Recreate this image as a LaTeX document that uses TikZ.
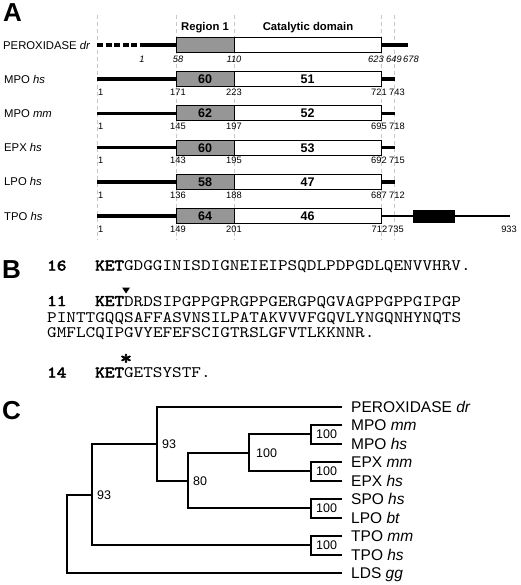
\documentclass[tikz,border=0pt]{standalone}
\usepackage{fontspec}
\setmainfont{Liberation Sans}
\newfontfamily\seqfont{lmmono10-regular}[Extension=.otf, FakeStretch=1.146, BoldFont=lmmono10-regular, BoldFeatures={FakeStretch=1.146, FakeBold=3}]
\definecolor{regiongray}{RGB}{150,150,150}
\definecolor{guidegray}{RGB}{200,200,200}
\begin{document}
\begin{tikzpicture}[x=1pt,y=-1pt,
  panel/.style={font=\fontsize{26}{26}\selectfont\bfseries, anchor=west, inner sep=0pt, text height=18.7pt, text depth=0pt},
  rowlbl/.style={font=\fontsize{11.3}{12}\selectfont, anchor=west, inner sep=0pt, text height=8.1pt, text depth=0pt},
  hdr/.style={font=\fontsize{11.3}{12}\selectfont\bfseries, inner sep=0pt, text height=8.1pt, text depth=0pt},
  regbox/.style={draw=black, line width=1pt, fill=regiongray, minimum width=58pt, minimum height=15pt, inner sep=0pt, font=\fontsize{12.5}{12}\selectfont\bfseries, text height=9pt, text depth=0pt},
  catbox/.style={draw=black, line width=1pt, fill=white, minimum width=147pt, minimum height=15pt, inner sep=0pt, font=\fontsize{12.5}{12}\selectfont\bfseries, text height=9pt, text depth=0pt},
  posn/.style={font=\fontsize{9.3}{9}\selectfont, inner sep=0pt, text height=6.6pt, text depth=0pt},
  stem/.style={line width=3.6pt},
  guide/.style={draw=guidegray, line width=0.9pt, dash pattern=on 4pt off 3pt},
  seq/.style={font=\seqfont\fontsize{16}{16}\selectfont, anchor=base west, inner sep=0pt},
  tree/.style={line width=2pt},
  leaf/.style={font=\fontsize{15.5}{16}\selectfont, anchor=west, inner xsep=9pt, inner ysep=0pt, text height=11.1pt, text depth=0pt},
  boot/.style={font=\fontsize{12.5}{13}\selectfont, anchor=west, inner sep=0pt, text height=9pt, text depth=0pt, xshift=5pt}
]
\useasboundingbox (0,0) rectangle (520,585);

% ---------- Panel A ----------
\node[panel] (pA) at (3,12) {A};
\foreach \gx in {97,176,234,381,394}
  \draw[guide] (\gx,15) -- (\gx,240);
\node[hdr] (hreg) at (205,26) {Region 1};
\node[hdr] (hcat) at (308,26) {Catalytic domain};

% PEROXIDASE dr
\node[rowlbl] (l0) at (3,45) {PEROXIDASE \textit{dr}};
\coordinate (s0) at (97,45);
\coordinate (m0) at (141,45);
\coordinate (e0) at (408,45);
\draw[stem, dash pattern=on 6pt off 2.6pt] (s0) -- (m0);
\draw[stem] (m0) -- (176,45);
\draw[stem] (381,45) -- (e0);
\node[regbox] (r0) at (205,45) {};
\node[catbox] (c0) at (307.5,45) {};
\node[posn] (p0a) at (142,59) {\textit{1}};
\node[posn] (p0b) at (178,59) {\textit{58}};
\node[posn] (p0c) at (234,59) {\textit{110}};
\node[posn] (p0d) at (376,59) {\textit{623}};
\node[posn] (p0e) at (394,59) {\textit{649}};
\node[posn] (p0f) at (411,59) {\textit{678}};

\foreach \i/\y/\nm/\ra/\ca/\pb/\pc/\pd/\pe in {
  1/79.2/{MPO \textit{hs}}/60/51/171/223/721/743,
  2/113.4/{MPO \textit{mm}}/62/52/145/197/695/718,
  3/147.6/{EPX \textit{hs}}/60/53/143/195/692/715,
  4/181.8/{LPO \textit{hs}}/58/47/136/188/687/712}{
  \node[rowlbl] (l\i) at (4,\y) {\nm};
  \coordinate (s\i) at (97,\y);
  \coordinate (e\i) at (395,\y);
  \draw[stem] (s\i) -- (176,\y);
  \draw[stem] (381,\y) -- (e\i);
  \node[regbox] (r\i) at (205,\y) {\ra};
  \node[catbox] (c\i) at (307.5,\y) {\ca};
  \node[posn, anchor=west] (pa\i) at (98,\y+13) {1};
  \node[posn] (pb\i) at (178,\y+13) {\pb};
  \node[posn] (pc\i) at (234,\y+13) {\pc};
  \node[posn] (pd\i) at (379,\y+13) {\pd};
  \node[posn] (pe\i) at (397,\y+13) {\pe};
}

% TPO hs
\node[rowlbl] (l5) at (4,216) {TPO \textit{hs}};
\coordinate (s5) at (97,216);
\coordinate (e5) at (510,216);
\draw[stem] (s5) -- (176,216);
\draw[line width=2.6pt] (381,216) -- (e5);
\node[regbox] (r5) at (205,216) {64};
\node[catbox] (c5) at (307.5,216) {46};
\node[draw=black, fill=black, minimum width=41pt, minimum height=12pt, inner sep=0pt] (tm5) at (433.5,216.5) {};
\node[posn, anchor=west] (pa5) at (98,229) {1};
\node[posn] (pb5) at (178,229) {149};
\node[posn] (pc5) at (234,229) {201};
\node[posn] (pd5) at (379.5,229) {712};
\node[posn] (pe5) at (396,229) {735};
\node[posn] (pf5) at (509,229) {933};

% ---------- Panel B ----------
\node[panel] (pB) at (2,269) {B};
\node[seq] (n16) at (47,270.5) {\textbf{16}};
\node[seq] (q16) at (95,270.5) {\textbf{KET}GDGGINISDIGNEIEIPSQDLPDPGDLQENVVHRV.};
\node[seq] (n11) at (47,306) {\textbf{11}};
\node[seq] (q11a) at (95,306) {\textbf{KET}DRDSIPGPPGPRGPPGERGPQGVAGPPGPPGIPGP};
\node[seq] (q11b) at (47,322) {PINTTGQQSAFFASVNSILPATAKVVVFGQVLYNGQNHYNQTS};
\node[seq] (q11c) at (47,337.5) {GMFLCQIPGVYEFEFSCIGTRSLGFVTLKKNNR.};
\fill (122,287.5) -- (130,287.5) -- (126,293.5) -- cycle;
\node[font=\seqfont\bfseries\fontsize{20}{20}\selectfont, anchor=base, inner sep=0pt] (ast) at (126,364.5) {*};
\node[seq] (n14) at (47,377.5) {\textbf{14}};
\node[seq] (q14) at (95,377.5) {\textbf{KET}GETSYSTF.};

% ---------- Panel C ----------
\node[panel] (pC) at (2,410) {C};
\node[leaf] (lf1) at (342,406.7) {PEROXIDASE \textit{dr}};
\node[leaf] (lf2) at (342,425.2) {MPO \textit{mm}};
\node[leaf] (lf3) at (342,443.7) {MPO \textit{hs}};
\node[leaf] (lf4) at (342,462.2) {EPX \textit{mm}};
\node[leaf] (lf5) at (342,480.7) {EPX \textit{hs}};
\node[leaf] (lf6) at (342,499.2) {SPO \textit{hs}};
\node[leaf] (lf7) at (342,517.7) {LPO \textit{bt}};
\node[leaf] (lf8) at (342,536.2) {TPO \textit{mm}};
\node[leaf] (lf9) at (342,554.7) {TPO \textit{hs}};
\node[leaf] (lf10) at (342,573.2) {LDS \textit{gg}};

\coordinate (nMPO) at (311,434.45);
\coordinate (nEPX) at (311,471.45);
\coordinate (nME) at (249,452.95);
\coordinate (nSL) at (311,508.45);
\coordinate (n80) at (188,480.7);
\coordinate (n93a) at (157,443.7);
\coordinate (nTPO) at (311,545.45);
\coordinate (n93b) at (92,494.6);
\coordinate (nRoot) at (67,533.9);

\draw[tree] (lf2.west) -| (nMPO) |- (lf3.west);
\draw[tree] (lf4.west) -| (nEPX) |- (lf5.west);
\draw[tree] (lf6.west) -| (nSL) |- (lf7.west);
\draw[tree] (lf8.west) -| (nTPO) |- (lf9.west);
\draw[tree] (nMPO) -| (nME) |- (nEPX);
\draw[tree] (nME) -| (n80) |- (nSL);
\draw[tree] (lf1.west) -| (n93a) |- (n80);
\draw[tree] (n93a) -| (n93b) |- (nTPO);
\draw[tree] (n93b) -| (nRoot) |- (lf10.west);

\node[boot] (b1) at (nMPO) {100};
\node[boot] (b2) at (nEPX) {100};
\node[boot] (b3) at (nSL) {100};
\node[boot] (b4) at (nTPO) {100};
\node[boot, xshift=2pt] (b5) at (nME) {100};
\node[boot] (b6) at (n80) {80};
\node[boot] (b7) at (n93a) {93};
\node[boot] (b8) at (n93b) {93};
\end{tikzpicture}
\end{document}
